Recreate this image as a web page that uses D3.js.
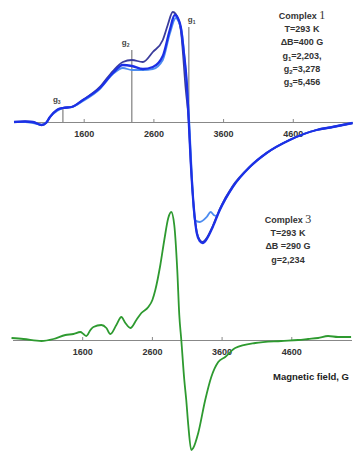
<!DOCTYPE html>
<html>
<head>
<meta charset="utf-8">
<script src="https://cdn.jsdelivr.net/npm/d3@7"></script>
<style>
  body { margin: 0; background: #fff; }
  svg { display: block; font-family: "Liberation Sans", Arial, sans-serif; }
  .tick text { font-size: 9px; font-weight: bold; fill: #333; }
  .note { font-size: 9px; font-weight: bold; fill: #333; text-anchor: middle; }
</style>
</head>
<body>
<div id="chart"></div>
<script>
// field ticks (G)
const fieldTicks = [1600, 2600, 3600, 4600];

// Complex 1, three overlaid EPR scans: [field G, intensity a.u.]
const scanDark = [
  [600,0],[758,0.5],[872,0],[997,-3],[1059,-1],[1116,5],[1216,12],[1302,14],[1427,15],
  [1589,22],[1832,35],[2019,51],[2162,60],[2291,62],[2449,60],[2592,70],[2735,82],
  [2806,97],[2878,110],[2921,108],[2993,92],[3065,32],[3108,0],[3136,-40],[3179,-85],
  [3222,-110],[3265,-118],[3308,-120],[3365,-116],[3452,-104],[3552,-87],[3738,-64],
  [3982,-45],[4225,-31],[4555,-18],[4942,-8],[5171,-5],[5458,-1]
];
const scanBright = [
  [600,0],[758,0.5],[872,0],[997,-3],[1059,-1],[1116,5],[1216,12],[1302,14],[1427,15],
  [1589,22],[1832,34],[2019,49],[2162,57],[2291,56],[2449,53],[2592,55],[2735,66],
  [2835,92],[2907,107],[2950,104],[2993,95],[3036,70],[3079,39],[3108,0],[3136,-40],
  [3179,-85],[3222,-111],[3265,-119],[3308,-121],[3365,-117],[3452,-105],[3552,-88],
  [3738,-65],[3982,-45],[4225,-31],[4555,-18],[4942,-8],[5171,-5],[5458,-1]
];
const scanLight = [
  [600,0],[758,0],[872,-1],[997,-3],[1059,-1],[1116,5],[1216,11],[1302,14],[1427,15],
  [1589,21],[1832,33],[2019,48],[2162,54],[2291,52],[2449,52],[2592,53],[2735,62],
  [2835,88],[2921,104],[2964,100],[3008,90],[3050,62],[3093,25],[3115,0],[3150,-50],
  [3193,-98],[3265,-100],[3365,-95],[3422,-90],[3465,-93],[3508,-94],[3552,-88],
  [3738,-65],[3982,-45],[4225,-31],[4555,-18],[4942,-8],[5171,-5],[5458,-1]
];

// Complex 3, single scan
const scanGreen = [
  [586,2],[758,1],[1016,-1],[1188,1],[1359,5],[1474,6],[1574,8],[1617,6],[1660,4],
  [1718,10],[1761,13],[1875,15],[1947,12],[2004,6],[2090,15],[2162,23],[2219,17],
  [2291,12],[2377,20],[2449,27],[2549,33],[2607,40],[2649,50],[2721,75],[2778,100],
  [2835,122],[2878,128],[2921,115],[2964,70],[2993,25],[3022,0],[3065,-40],[3093,-60],
  [3122,-85],[3165,-110],[3193,-108],[3265,-93],[3365,-60],[3452,-37],[3552,-22],
  [3652,-17],[3795,-8],[4082,-3],[4455,-1],[4698,0],[4842,1],[4985,2],[5128,4],
  [5271,3],[5458,3]
];

// g-factor markers for complex 1: [label subscript, field, height a.u.]
const gMarks = [["1", 3108, 95], ["2", 2291, 72], ["3", 1302, 15]];

const notes1 = [["Complex ", "1"], ["T=293 K"], ["\u0394B=400 G"],
  ["g", "1", "=2,203,"], ["g", "2", "=3,278"], ["g", "3", "=5,456"]];
const notes3 = [["Complex ", "3"], ["T=293 K"], ["\u0394B =290 G"], ["g=2,234"]];

const width = 353, height = 453;

const svg = d3.select("#chart").append("svg")
  .attr("width", width).attr("height", height);

const xTop = d3.scaleLinear().domain([600, 5464]).range([14, 353]);
const xBot = d3.scaleLinear().domain([600, 5464]).range([12.5, 351.5]);
const yTop = d3.scaleLinear().domain([-130, 110]).range([252, 12]);
const yBot = d3.scaleLinear().domain([-115, 130]).range([455, 210]);

function drawAxis(x, y) {
  let g = svg.append("g")
    .attr("transform", "translate(0," + y(0) + ")")
    .call(d3.axisBottom(x).tickValues(fieldTicks).tickFormat(d3.format("d"))
      .tickSizeInner(-3).tickSizeOuter(0).tickPadding(9));
  g.select(".domain").attr("stroke", "#888").attr("stroke-width", 1.2);
  g.selectAll(".tick line").attr("stroke", "#888");
  return g;
}
drawAxis(xTop, yTop);
drawAxis(xBot, yBot);

// g marker lines
gMarks.forEach(function(m) {
  svg.append("line")
    .attr("x1", xTop(m[1])).attr("x2", xTop(m[1]))
    .attr("y1", yTop(0)).attr("y2", yTop(m[2]))
    .attr("stroke", m[0] == "1" ? "#999" : "#666")
    .attr("stroke-width", m[0] == "1" ? 1.5 : 1);
  let t = svg.append("text")
    .attr("x", m[0] == "1" ? xTop(m[1]) - 1 : xTop(m[1]) - 10)
    .attr("y", yTop(m[2]) - 5)
    .attr("font-size", 8).attr("font-weight", "bold").attr("fill", "#444");
  t.append("tspan").text("g");
  t.append("tspan").attr("font-size", 5).attr("dy", 1.5).text(m[0]);
});

function drawScan(data, x, y, color, w) {
  let line = d3.line()
    .x(function(d) { return x(d[0]); })
    .y(function(d) { return y(d[1]); })
    .curve(d3.curveMonotoneX);
  svg.append("path").datum(data)
    .attr("d", line)
    .attr("fill", "none")
    .attr("stroke", color)
    .attr("stroke-width", w)
    .attr("stroke-linejoin", "round");
}
drawScan(scanDark, xTop, yTop, "#3a3c9c", 1.8);
drawScan(scanLight, xTop, yTop, "#4c8cf0", 1.8);
drawScan(scanBright, xTop, yTop, "#1c30e6", 2.3);
drawScan(scanGreen, xBot, yBot, "#2e9a30", 1.8);

function drawNotes(lines, cx, y0) {
  lines.forEach(function(l, i) {
    let t = svg.append("text").attr("class", "note")
      .attr("x", cx).attr("y", y0 + i * 13.2);
    if (l.length == 1) {
      t.text(l[0]);
    } else if (l.length == 2) {
      t.append("tspan").text(l[0]);
      t.append("tspan").attr("font-family", "Liberation Serif, serif")
        .attr("font-weight", "normal").attr("font-size", 12).text(l[1]);
    } else {
      t.append("tspan").text(l[0]);
      t.append("tspan").attr("font-size", 6).attr("dy", 2).text(l[1]);
      t.append("tspan").attr("dy", -2).text(l[2]);
    }
  });
}
drawNotes(notes1, 302, 19);
drawNotes(notes3, 288, 223);

svg.append("text")
  .attr("x", 273).attr("y", 380)
  .attr("font-size", 9.5).attr("font-weight", "bold").attr("fill", "#222")
  .text("Magnetic field, G");
</script>
</body>
</html>
